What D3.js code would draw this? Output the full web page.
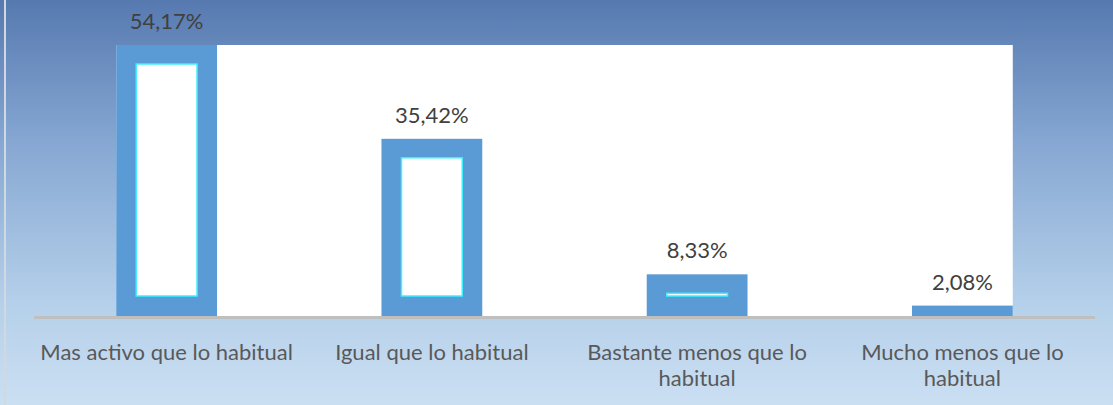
<!DOCTYPE html>
<html>
<head>
<meta charset="utf-8">
<script src="https://cdn.jsdelivr.net/npm/d3@7"></script>
<style>
  body { margin: 0; background: #fff; }
  svg { display: block; }
</style>
</head>
<body>
<div id="chart"></div>
<script>
// data
const categories = ["Mas activo que lo habitual", "Igual que lo habitual", "Bastante menos que lo habitual", "Mucho menos que lo habitual"];
const catLines = [["Mas activo que lo habitual"], ["Igual que lo habitual"], ["Bastante menos que lo", "habitual"], ["Mucho menos que lo", "habitual"]];
const values = [54.17, 35.42, 8.33, 2.08];
const valueLabels = ["54,17%", "35,42%", "8,33%", "2,08%"];

const width = 1113, height = 405;
const baseY = 316;
const font = "Lato, 'Open Sans', sans-serif";

const svg = d3.select("#chart")
    .append("svg")
    .attr("width", width)
    .attr("height", height);

const defs = svg.append("defs");
const grad = defs.append("linearGradient")
    .attr("id", "bg")
    .attr("x1", 0).attr("y1", 0).attr("x2", 0).attr("y2", 1);
grad.append("stop").attr("offset", "0%").attr("stop-color", "#5679b0");
grad.append("stop").attr("offset", "35%").attr("stop-color", "#86a7d2");
grad.append("stop").attr("offset", "75%").attr("stop-color", "#b5d0ea");
grad.append("stop").attr("offset", "100%").attr("stop-color", "#cbdff2");

svg.append("rect")
    .attr("x", 0).attr("y", 0)
    .attr("width", width).attr("height", height)
    .attr("fill", "url(#bg)");
svg.append("line")
    .attr("x1", 5).attr("x2", 5).attr("y1", 0).attr("y2", height)
    .attr("stroke", "#d0d8e2").attr("stroke-width", 2);

const x = d3.scaleBand()
    .domain(categories)
    .range([34, 1095])
    .paddingInner(0.62)
    .paddingOuter(0.31);

const y = d3.scaleLinear()
    .domain([0, 54.17])
    .range([baseY, 45]);

// white plot area (starts at first bar, ends at last bar)
svg.append("rect")
    .attr("x", x(categories[0]))
    .attr("y", y(54.17))
    .attr("width", x(categories[3]) + x.bandwidth() - x(categories[0]))
    .attr("height", baseY - y(54.17))
    .attr("fill", "#ffffff");

const bars = svg.append("g")
    .selectAll("g")
    .data(values)
    .join("g");

bars.append("rect")
    .attr("x", (d, i) => x(categories[i]))
    .attr("y", d => y(d))
    .attr("width", x.bandwidth())
    .attr("height", d => baseY - y(d))
    .attr("fill", "#5b9bd5");

const inset = 20;
bars.filter(d => baseY - y(d) > 2 * inset - 4)
    .append("rect")
    .attr("x", (d, i) => x(categories[i]) + inset)
    .attr("y", d => y(d) + inset - 1)
    .attr("width", x.bandwidth() - 2 * inset)
    .attr("height", d => Math.max(1, baseY - y(d) - 2 * inset + 1))
    .attr("fill", "#ffffff")
    .attr("stroke", "#3ff0ff")
    .attr("stroke-width", 1.5);

// axis line
svg.append("line")
    .attr("x1", 34).attr("x2", 1095)
    .attr("y1", baseY + 1.5).attr("y2", baseY + 1.5)
    .attr("stroke", "#bfbfbf").attr("stroke-width", 3);

// value labels
svg.append("g")
    .selectAll("text")
    .data(values)
    .join("text")
    .attr("x", (d, i) => x(categories[i]) + x.bandwidth() / 2)
    .attr("y", d => y(d) - 16)
    .attr("text-anchor", "middle")
    .attr("font-family", font)
    .attr("font-size", 22)
    .attr("fill", "#404040")
    .text((d, i) => valueLabels[i]);

// category labels
const cat = svg.append("g")
    .selectAll("text")
    .data(categories)
    .join("text")
    .attr("x", d => x(d) + x.bandwidth() / 2)
    .attr("y", 360)
    .attr("text-anchor", "middle")
    .attr("font-family", font)
    .attr("font-size", 22)
    .attr("fill", "#595959");

cat.selectAll("tspan")
    .data((d, i) => catLines[i])
    .join("tspan")
    .attr("x", function() { return this.parentNode.getAttribute("x"); })
    .attr("dy", (d, j) => j === 0 ? 0 : 26)
    .text(d => d);
</script>
</body>
</html>
